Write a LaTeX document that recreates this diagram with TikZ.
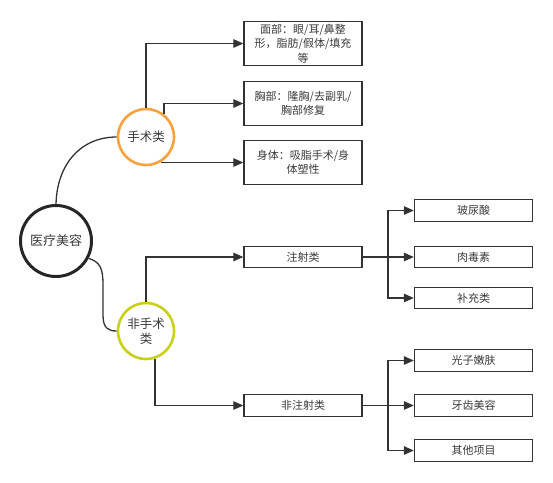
\documentclass[tikz,border=0pt]{standalone}
\usepackage{fontspec}
\setmainfont{Noto Sans CJK SC}
\usetikzlibrary{arrows.meta}
\definecolor{ln}{HTML}{333333}
\definecolor{txt}{HTML}{3A3A3A}
\definecolor{orng}{HTML}{F6A23E}
\definecolor{ylw}{HTML}{C9D01A}
\tikzset{
  circ/.style={circle, draw, inner sep=0pt, text=txt, align=center, font=\fontsize{12.5}{15}\selectfont},
  rootc/.style={circ, draw=black!85, line width=3pt, minimum size=71pt, font=\fontsize{13}{15}\selectfont},
  subc/.style={circ, line width=2.6pt, minimum size=56pt},
  boxn/.style={rectangle, draw=ln, line width=1.4pt, minimum width=118pt, inner sep=1pt, text=txt, align=center, font=\fontsize{11}{14.5}\selectfont},
  conn/.style={draw=ln, line width=1.3pt},
  arr/.style={conn, -{Triangle[length=10pt,width=8.5pt]}},
}
\begin{document}
\begin{tikzpicture}[x=1pt,y=-1pt]
\useasboundingbox (0,0) rectangle (553,482);
% circles
\node[rootc] (root) at (56,241) {医疗美容};
\node[subc, draw=orng] (ss) at (146,137) {手术类};
\node[subc, draw=ylw] (fs) at (146,331) {非手术\\类};
% left boxes
\node[boxn, minimum height=44pt] (b1) at (303,43.5) {面部：眼/耳/鼻整\\形，脂肪/假体/填充\\等};
\node[boxn, minimum height=44pt] (b2) at (303,103.5) {胸部：隆胸/去副乳/\\胸部修复};
\node[boxn, minimum height=44pt] (b3) at (303,162.5) {身体：吸脂手术/身\\体塑性};
\node[boxn, minimum height=21.5pt] (zs) at (303,257) {注射类};
\node[boxn, minimum height=21.5pt] (fz) at (303,405.5) {非注射类};
% right boxes
\node[boxn, minimum height=21.5pt] (r1) at (473.5,210.5) {玻尿酸};
\node[boxn, minimum height=21.5pt] (r2) at (473.5,257) {肉毒素};
\node[boxn, minimum height=21.5pt] (r3) at (473.5,298) {补充类};
\node[boxn, minimum height=21.5pt] (r4) at (473.5,360.5) {光子嫩肤};
\node[boxn, minimum height=21.5pt] (r5) at (473.5,405.5) {牙齿美容};
\node[boxn, minimum height=21.5pt] (r6) at (473.5,450.5) {其他项目};
% curves from root
\draw[conn] (root.north) .. controls (57,165) and (80,137) .. (ss.west);
\draw[conn] (root.-28) .. controls (100,262) and (103,268) .. (103,285)
  -- (103,315) .. controls (103,328) and (108,331) .. (fs.west);
% surgical branches
\draw[arr] (ss.north) |- (b1.west);
\draw[arr] (ss.52) |- (b2.west);
\draw[arr] (ss.-57) |- (b3.west);
% non-surgical branches
\draw[arr] (fs.north) |- (zs.west);
\draw[arr] (fs.-72) |- (fz.west);
% injection
\coordinate (zj) at (388,257);
\draw[arr] (zs.east) -- (zj) |- (r1.west);
\draw[arr] (zs.east) -- (r2.west);
\draw[arr] (zj) |- (r3.west);
% non-injection
\coordinate (fj) at (388,405.5);
\draw[arr] (fz.east) -- (fj) |- (r4.west);
\draw[arr] (fz.east) -- (r5.west);
\draw[arr] (fj) |- (r6.west);
\end{tikzpicture}
\end{document}
